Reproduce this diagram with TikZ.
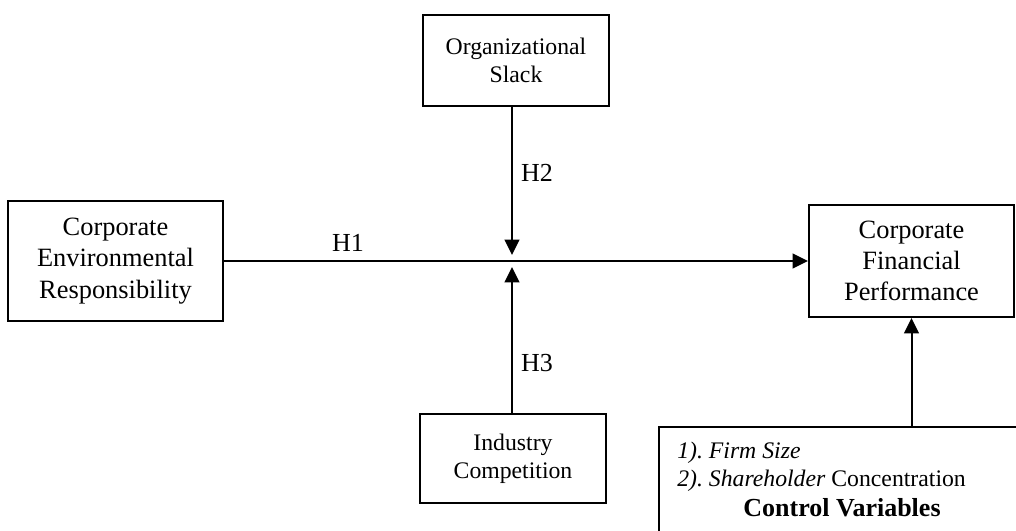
\documentclass[tikz,border=0pt]{standalone}
\usepackage{fontspec}
\setmainfont{Liberation Serif}
\usetikzlibrary{arrows.meta}
\frenchspacing
\begin{document}
\begin{tikzpicture}[x=0.75pt,y=-0.75pt,
  box/.style={draw, line width=1.5pt, inner sep=0pt, align=center},
  big/.style={font=\fontsize{19.8}{23.5}\selectfont},
  small/.style={font=\fontsize{17.8}{20.8}\selectfont},
  link/.style={line width=1.5pt, -{Triangle[length=11.5pt,width=11pt]}},
  hlab/.style={font=\fontsize{19.5}{23}\selectfont, inner sep=0pt},
  ctext/.style={font=\fontsize{17.8}{21}\selectfont, inner sep=0pt, anchor=base west}]
\useasboundingbox (0,0) rectangle (1016,531);
\clip (0,0) rectangle (1016,531);

% main constructs
\node[box, big, minimum width=161.25pt, minimum height=90pt] (cer) at (115.5,261)
  {Corporate\\Environmental\\Responsibility};
\node[box, small, minimum width=139.5pt, minimum height=68.25pt] (os) at (516,60.5)
  {Organizational\\Slack};
\node[box, small, minimum width=139.5pt, minimum height=66.75pt] (ic) at (513,458.5)
  {Industry\\Competition};
\node[box, big, minimum width=153.75pt, minimum height=84pt] (cfp) at (911.5,261)
  {Corporate\\Financial\\Performance};
\node[box, minimum width=285.75pt, minimum height=99.75pt] (ctrl) at (849.5,493.5) {};

% control variables text
\node[ctext] (cv1) at (677,458) {\textit{1). Firm Size}};
\node[ctext] (cv2) at (677,486) {\textit{2). Shareholder} Concentration};
\node[font=\fontsize{19.5}{23}\selectfont\bfseries, inner sep=0pt, anchor=base] (cvt) at (842,516) {Control Variables};

% junction of the moderating paths
\coordinate (j) at (512,261);
\coordinate (jt) at (512,255);
\coordinate (jb) at (512,267);

% paths
\draw[link] (cer.east) -- (cfp.west);
\draw[link] (os.south -| jt) -- (jt);
\draw[link] (ic.north -| jb) -- (jb);
\draw[link] (ctrl.north -| cfp.south) -- (cfp.south);

% hypothesis labels
\node[hlab] (h1) at (348,243) {H1};
\node[hlab] (h2) at (537,173) {H2};
\node[hlab] (h3) at (537,363) {H3};
\end{tikzpicture}
\end{document}
